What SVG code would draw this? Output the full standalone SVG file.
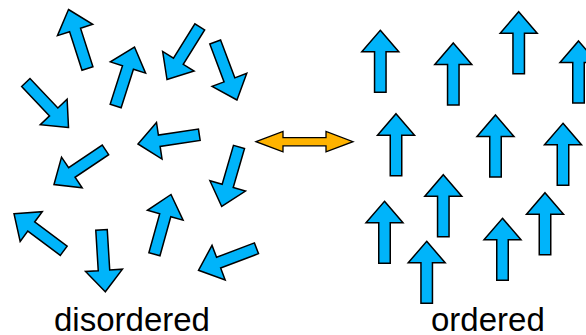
<svg xmlns="http://www.w3.org/2000/svg" xmlns:xlink="http://www.w3.org/1999/xlink" width="586" height="335" viewBox="0 0 586 335">
  <style>
    .spin { fill: #00B4FA; stroke: #000; stroke-width: 1.5; stroke-linejoin: miter; }
    .swap { fill: #FFB300; stroke: #000; stroke-width: 1.3; }
    .label { font-family: "Liberation Sans", Arial, sans-serif; font-size: 33px; fill: #000; }
  </style>
  <defs>
    <!-- block arrow, tip at origin, pointing up -->
    <path id="arrow" d="M0,0 L18.5,21.5 L5.75,21.5 L5.75,62 L-5.75,62 L-5.75,21.5 L-18.5,21.5 Z"/>
  </defs>
  <rect width="586" height="335" fill="#fff"/>

  <!-- random orientations -->
  <g id="disordered" class="spin">
    <use xlink:href="#arrow" transform="translate(68.5,9.5) rotate(-17.8)"/>
    <use xlink:href="#arrow" transform="translate(134.5,47) rotate(17.7)"/>
    <use xlink:href="#arrow" transform="translate(167,79.5) rotate(211.9)"/>
    <use xlink:href="#arrow" transform="translate(237,100) rotate(159.4)"/>
    <use xlink:href="#arrow" transform="translate(68.5,127.5) rotate(136.5)"/>
    <use xlink:href="#arrow" transform="translate(138,144) rotate(261.4)"/>
    <use xlink:href="#arrow" transform="translate(54,184.5) rotate(236.1)"/>
    <use xlink:href="#arrow" transform="translate(221.7,206.5) rotate(196.2)"/>
    <use xlink:href="#arrow" transform="translate(14,213.7) rotate(-53.3)"/>
    <use xlink:href="#arrow" transform="translate(105.3,291.8) rotate(176.5)"/>
    <use xlink:href="#arrow" transform="translate(171,194.5) rotate(15.5)"/>
    <use xlink:href="#arrow" transform="translate(198.5,270.3) rotate(249.2)"/>
  </g>

  <!-- aligned orientations -->
  <g id="ordered" class="spin">
    <use xlink:href="#arrow" transform="translate(380.3,30.3)"/>
    <use xlink:href="#arrow" transform="translate(453.3,43)"/>
    <use xlink:href="#arrow" transform="translate(518.7,11.7)"/>
    <use xlink:href="#arrow" transform="translate(578.5,41)"/>
    <use xlink:href="#arrow" transform="translate(396,113.7)"/>
    <use xlink:href="#arrow" transform="translate(495.5,115)"/>
    <use xlink:href="#arrow" transform="translate(563,123.3)"/>
    <use xlink:href="#arrow" transform="translate(443.3,174.7)"/>
    <use xlink:href="#arrow" transform="translate(384.5,201.3)"/>
    <use xlink:href="#arrow" transform="translate(426.7,241.3)"/>
    <use xlink:href="#arrow" transform="translate(502.5,218.3)"/>
    <use xlink:href="#arrow" transform="translate(545,192.7)"/>
  </g>

  <!-- two-way transition -->
  <g id="connectors">
    <path class="swap" d="M256,141.7 L283,131.5 L283,137.6 L326,137.6 L326,131.5 L353,141.7 L326,151.9 L326,145.8 L283,145.8 L283,151.9 Z"/>
  </g>

  <g id="labels">
    <text class="label" x="54" y="331">disordered</text>
    <text class="label" x="431" y="331">ordered</text>
  </g>
</svg>
